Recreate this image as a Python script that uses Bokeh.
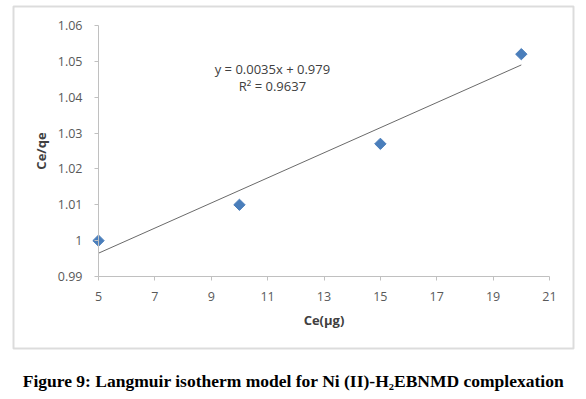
from bokeh.plotting import figure
from bokeh.models import Range1d, FixedTicker, CustomJSTickFormatter, Label, BoxAnnotation
from bokeh.embed import file_html
from bokeh.resources import INLINE
import numpy as np

# data
ce = [5, 10, 15, 20]
ce_qe = [1.000, 1.010, 1.027, 1.052]
slope = 0.0035
intercept = 0.979
r2 = 0.9637
x_ticks = [5, 7, 9, 11, 13, 15, 17, 19, 21]
y_ticks = [0.99, 1.00, 1.01, 1.02, 1.03, 1.04, 1.05, 1.06]
caption = "Figure 9: Langmuir isotherm model for Ni (II)-H₂EBNMD complexation"

# layout (pixels)
W, H = 586, 399
PL, PR, PT, PB = 98, 549, 25, 276          # plot area edges
BOX = (13, 573, 6, 348)                    # chart box: left, right, top, bottom

xs = (x_ticks[-1] - x_ticks[0]) / (PR - PL)
ys = (y_ticks[-1] - y_ticks[0]) / (PB - PT)
x_range = Range1d(x_ticks[0] - PL * xs, x_ticks[-1] + (W - PR) * xs)
y_range = Range1d(y_ticks[0] - (H - PB) * ys, y_ticks[-1] + PT * ys)

p = figure(width=W, height=H, output_backend="svg", toolbar_location=None,
           x_range=x_range, y_range=y_range, min_border=0)
p.xgrid.visible = False
p.ygrid.visible = False
p.outline_line_color = None
p.background_fill_color = "white"
p.border_fill_color = "white"

for ax in (p.xaxis[0], p.yaxis[0]):
    ax.axis_line_color = "#c0c0c0"
    ax.major_tick_line_color = "#c0c0c0"
    ax.major_tick_out = 4
    ax.major_tick_in = 0
    ax.minor_tick_line_color = None
    ax.major_label_text_font = "Open Sans"
    ax.major_label_text_font_size = "12.5px"
    ax.major_label_text_color = "#595959"
    ax.axis_label_text_font = "Open Sans"
    ax.axis_label_text_font_size = "13px"
    ax.axis_label_text_font_style = "bold"
    ax.axis_label_text_color = "#404040"

p.xaxis.ticker = FixedTicker(ticks=x_ticks)
p.yaxis.ticker = FixedTicker(ticks=y_ticks)
p.xaxis.bounds = (x_ticks[0], x_ticks[-1])
p.yaxis.bounds = (y_ticks[0], y_ticks[-1])
p.xaxis.fixed_location = y_ticks[0]
p.yaxis.fixed_location = x_ticks[0]
p.yaxis.formatter = CustomJSTickFormatter(code="return (Math.round(tick*100)/100).toString();")
p.xaxis.axis_label = "Ce(µg)"
p.yaxis.axis_label = "Ce/qe"
p.xaxis.major_label_standoff = 11
p.yaxis.major_label_standoff = 12
p.xaxis.axis_label_standoff = 7
p.yaxis.axis_label_standoff = 5

# outer chart box
p.add_layout(BoxAnnotation(left=BOX[0], right=BOX[1], top=BOX[2], bottom=BOX[3],
                           left_units="canvas", right_units="canvas",
                           top_units="canvas", bottom_units="canvas",
                           fill_color=None, line_color="#8c8c8c", line_width=2))

# trend line
tx = np.array([ce[0], ce[-1]], dtype=float)
ty = slope * tx + intercept
p.line(tx, ty, line_color="#6a6a6a", line_width=1)

p.scatter(ce, ce_qe, marker="square", angle=np.pi / 4, size=8,
          fill_color="#4a7ebb", line_color="#4a7ebb")

eq1 = Label(x=11.17, y=1.048, text=f"y = {slope}x + {intercept}", text_align="center",
            text_baseline="middle", text_font="Open Sans", text_font_size="13px", text_color="#404040")
eq2 = Label(x=11.17, y=1.043, text=f"R² = {r2}", text_align="center",
            text_baseline="middle", text_font="Open Sans", text_font_size="13px", text_color="#404040")
p.add_layout(eq1)
p.add_layout(eq2)

p.add_layout(Label(x=293, y=H - 380, x_units="screen", y_units="screen",
                   text=caption,
                   text_align="center", text_baseline="middle", text_font="Liberation Serif",
                   text_font_style="bold", text_font_size="17.5px", text_color="black"))

open("out.html", "w").write(file_html(p, INLINE))
